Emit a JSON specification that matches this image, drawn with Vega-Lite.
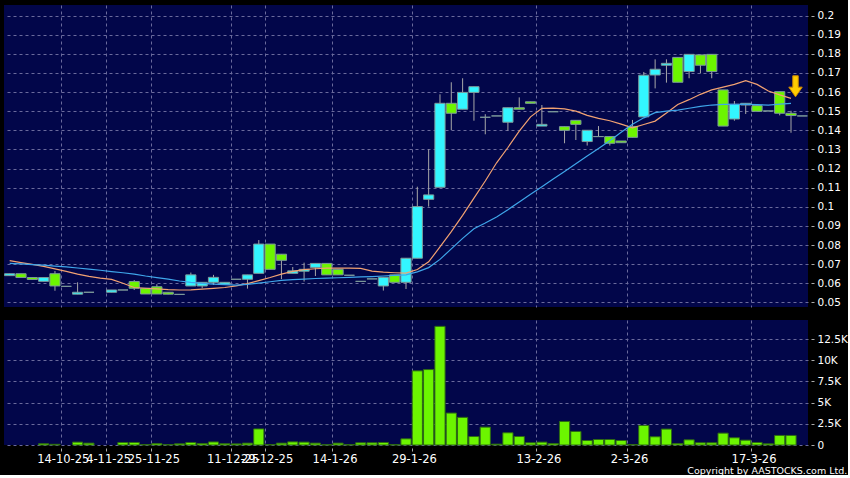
{
  "$schema": "https://vega.github.io/schema/vega-lite/v6.json",
  "background": "#000000",
  "padding": {"left": 4, "top": 5, "right": 0, "bottom": 0},
  "config": {
    "view": {"fill": "#02064a", "stroke": null},
    "font": "DejaVu Sans",
    "axis": {"labelColor": "#ffffff", "labelFont": "DejaVu Sans", "labelFontSize": 10.5, "tickColor": "#aaaaaa", "tickSize": 3, "domain": false, "gridColor": "#6a6a9c", "gridDash": [3, 3], "gridWidth": 1, "gridOpacity": 1, "title": null, "minExtent": 0, "labelOverlap": false, "labelBound": false, "labelFlush": false},
    "title": {"color": "#ffffff", "font": "DejaVu Sans", "fontSize": 9.5, "fontWeight": "normal"}
  },
  "title": {"text": "Copyright by AASTOCKS.com Ltd.", "orient": "bottom", "anchor": "end", "offset": 1},
  "spacing": 12,
  "datasets": {
    "k": [
      {"d":"29-9-25","o":0.064,"h":0.065,"l":0.064,"c":0.065,"v":null,"m1":0.0718,"m2":0.0704},
      {"d":"30-9-25","o":0.065,"h":0.065,"l":0.063,"c":0.063,"v":null,"m1":0.0708,"m2":0.0701},
      {"d":"3-10-25","o":0.063,"h":0.063,"l":0.062,"c":0.062,"v":null,"m1":0.0699,"m2":0.0698},
      {"d":"8-10-25","o":0.061,"h":0.063,"l":0.061,"c":0.063,"v":150,"m1":0.0688,"m2":0.0695},
      {"d":"10-10-25","o":0.065,"h":0.0664,"l":0.0561,"c":0.0586,"v":80,"m1":0.0675,"m2":0.069},
      {"d":"14-10-25","o":0.0584,"h":0.0584,"l":0.0584,"c":0.0584,"v":null,"m1":0.0662,"m2":0.0686},
      {"d":"20-10-25","o":0.0543,"h":0.0605,"l":0.0543,"c":0.0553,"v":340,"m1":0.0648,"m2":0.068},
      {"d":"24-10-25","o":0.0553,"h":0.0553,"l":0.0553,"c":0.0553,"v":220,"m1":0.0636,"m2":0.0674},
      {"d":"30-10-25","o":null,"h":null,"l":null,"c":null,"v":null,"m1":0.0627,"m2":0.0668},
      {"d":"4-11-25","o":0.0553,"h":0.0565,"l":0.0553,"c":0.0565,"v":null,"m1":0.062,"m2":0.0661},
      {"d":"7-11-25","o":0.0565,"h":0.0565,"l":0.0565,"c":0.0565,"v":300,"m1":0.06,"m2":0.0655},
      {"d":"13-11-25","o":0.0609,"h":0.0617,"l":0.0565,"c":0.0574,"v":300,"m1":0.0578,"m2":0.0648},
      {"d":"19-11-25","o":0.0574,"h":0.0574,"l":0.0544,"c":0.0544,"v":60,"m1":0.0574,"m2":0.0638},
      {"d":"25-11-25","o":0.0582,"h":0.0595,"l":0.0544,"c":0.0544,"v":180,"m1":0.0571,"m2":0.063},
      {"d":"26-11-25","o":0.0553,"h":0.0553,"l":0.0543,"c":0.0543,"v":60,"m1":0.0567,"m2":0.0622},
      {"d":"28-11-25","o":0.0542,"h":0.0542,"l":0.0542,"c":0.0542,"v":140,"m1":0.0565,"m2":0.0612},
      {"d":"1-12-25","o":0.0586,"h":0.0656,"l":0.0586,"c":0.0644,"v":300,"m1":0.0566,"m2":0.0605},
      {"d":"3-12-25","o":0.0586,"h":0.0605,"l":0.0574,"c":0.0605,"v":180,"m1":0.0569,"m2":0.06},
      {"d":"5-12-25","o":0.0605,"h":0.0644,"l":0.0591,"c":0.0631,"v":360,"m1":0.0573,"m2":0.0596},
      {"d":"9-12-25","o":0.0595,"h":0.0605,"l":0.0595,"c":0.0605,"v":150,"m1":0.0578,"m2":0.0593},
      {"d":"11-12-25","o":0.0621,"h":0.0621,"l":0.0621,"c":0.0621,"v":130,"m1":0.0586,"m2":0.059},
      {"d":"15-12-25","o":0.0621,"h":0.0644,"l":0.0572,"c":0.0644,"v":220,"m1":0.0598,"m2":0.0594},
      {"d":"22-12-25","o":0.0652,"h":0.0826,"l":0.0652,"c":0.0805,"v":1900,"m1":0.0614,"m2":0.0601},
      {"d":"29-12-25","o":0.0805,"h":0.0805,"l":0.0673,"c":0.0673,"v":60,"m1":0.063,"m2":0.0608},
      {"d":"30-12-25","o":0.0752,"h":0.0752,"l":0.0622,"c":0.072,"v":220,"m1":0.0648,"m2":0.0615},
      {"d":"2-1-26","o":0.0652,"h":0.0685,"l":0.0652,"c":0.0665,"v":370,"m1":0.0662,"m2":0.0619},
      {"d":"5-1-26","o":0.0663,"h":0.0708,"l":0.0609,"c":0.0673,"v":340,"m1":0.0671,"m2":0.0622},
      {"d":"8-1-26","o":0.0683,"h":0.0704,"l":0.0638,"c":0.0704,"v":220,"m1":0.0676,"m2":0.0625},
      {"d":"12-1-26","o":0.0704,"h":0.0704,"l":0.0644,"c":0.0644,"v":30,"m1":0.0679,"m2":0.0627},
      {"d":"14-1-26","o":0.0673,"h":0.0673,"l":0.0644,"c":0.0644,"v":220,"m1":0.0679,"m2":0.0629},
      {"d":"15-1-26","o":0.0642,"h":0.0642,"l":0.0642,"c":0.0642,"v":40,"m1":0.0679,"m2":0.0631},
      {"d":"19-1-26","o":0.061,"h":0.061,"l":0.061,"c":0.061,"v":260,"m1":0.0678,"m2":0.0633},
      {"d":"21-1-26","o":0.0623,"h":0.0623,"l":0.0623,"c":0.0623,"v":260,"m1":0.0664,"m2":0.0635},
      {"d":"23-1-26","o":0.0586,"h":0.0631,"l":0.0562,"c":0.0631,"v":300,"m1":0.0658,"m2":0.0638},
      {"d":"27-1-26","o":0.0644,"h":0.0644,"l":0.0605,"c":0.0605,"v":40,"m1":0.0655,"m2":0.0641},
      {"d":"28-1-26","o":0.0605,"h":0.0731,"l":0.057,"c":0.0731,"v":730,"m1":0.0653,"m2":0.0644},
      {"d":"29-1-26","o":0.0731,"h":0.1105,"l":0.0731,"c":0.1001,"v":8750,"m1":0.0672,"m2":0.066},
      {"d":"30-1-26","o":0.1039,"h":0.13,"l":0.1001,"c":0.1062,"v":8900,"m1":0.0712,"m2":0.0682},
      {"d":"2-2-26","o":0.1102,"h":0.1588,"l":0.1102,"c":0.1541,"v":14000,"m1":0.079,"m2":0.0725},
      {"d":"3-2-26","o":0.1541,"h":0.1651,"l":0.1401,"c":0.1489,"v":3770,"m1":0.087,"m2":0.078},
      {"d":"4-2-26","o":0.151,"h":0.1672,"l":0.151,"c":0.1598,"v":3260,"m1":0.0955,"m2":0.0835},
      {"d":"5-2-26","o":0.1598,"h":0.1628,"l":0.145,"c":0.1628,"v":1000,"m1":0.1045,"m2":0.0885},
      {"d":"6-2-26","o":0.1468,"h":0.1484,"l":0.1379,"c":0.1468,"v":2110,"m1":0.1135,"m2":0.0915},
      {"d":"9-2-26","o":0.1475,"h":0.1475,"l":0.1475,"c":0.1475,"v":100,"m1":0.123,"m2":0.0947},
      {"d":"10-2-26","o":0.1442,"h":0.1518,"l":0.1398,"c":0.1518,"v":1440,"m1":0.131,"m2":0.0985},
      {"d":"11-2-26","o":0.1518,"h":0.1572,"l":0.151,"c":0.151,"v":1000,"m1":0.1395,"m2":0.1025},
      {"d":"12-2-26","o":0.1549,"h":0.1549,"l":0.1541,"c":0.1541,"v":260,"m1":0.147,"m2":0.1065},
      {"d":"13-2-26","o":0.1422,"h":0.1532,"l":0.1422,"c":0.1431,"v":340,"m1":0.1515,"m2":0.1105},
      {"d":"16-2-26","o":0.1497,"h":0.1497,"l":0.1497,"c":0.1497,"v":180,"m1":0.1516,"m2":0.1145},
      {"d":"20-2-26","o":0.1419,"h":0.1419,"l":0.1332,"c":0.14,"v":2780,"m1":0.1512,"m2":0.1185},
      {"d":"23-2-26","o":0.1452,"h":0.1452,"l":0.1349,"c":0.1431,"v":1600,"m1":0.15,"m2":0.1225},
      {"d":"24-2-26","o":0.1341,"h":0.14,"l":0.132,"c":0.14,"v":530,"m1":0.1478,"m2":0.1265},
      {"d":"25-2-26","o":0.1367,"h":0.1422,"l":0.1367,"c":0.1367,"v":650,"m1":0.1462,"m2":0.1305},
      {"d":"26-2-26","o":0.1367,"h":0.1367,"l":0.132,"c":0.1332,"v":650,"m1":0.145,"m2":0.1345},
      {"d":"27-2-26","o":0.1344,"h":0.1344,"l":0.1335,"c":0.1335,"v":530,"m1":0.1432,"m2":0.139},
      {"d":"2-3-26","o":0.142,"h":0.1454,"l":0.1363,"c":0.1363,"v":50,"m1":0.1413,"m2":0.1432},
      {"d":"3-3-26","o":0.147,"h":0.1705,"l":0.147,"c":0.1688,"v":2310,"m1":0.143,"m2":0.1465},
      {"d":"4-3-26","o":0.1689,"h":0.1771,"l":0.1619,"c":0.1719,"v":970,"m1":0.1448,"m2":0.1492},
      {"d":"5-3-26","o":0.174,"h":0.1771,"l":0.1649,"c":0.175,"v":1880,"m1":0.149,"m2":0.15},
      {"d":"6-3-26","o":0.1781,"h":0.1781,"l":0.1651,"c":0.1651,"v":180,"m1":0.1535,"m2":0.1505},
      {"d":"9-3-26","o":0.1707,"h":0.1797,"l":0.1672,"c":0.1797,"v":610,"m1":0.156,"m2":0.1515},
      {"d":"10-3-26","o":0.1794,"h":0.1794,"l":0.1698,"c":0.174,"v":260,"m1":0.1588,"m2":0.1525},
      {"d":"11-3-26","o":0.1797,"h":0.1797,"l":0.1672,"c":0.1707,"v":260,"m1":0.1611,"m2":0.1532},
      {"d":"12-3-26","o":0.1611,"h":0.1611,"l":0.1422,"c":0.1422,"v":1400,"m1":0.1626,"m2":0.1535},
      {"d":"13-3-26","o":0.1459,"h":0.1553,"l":0.145,"c":0.1536,"v":850,"m1":0.164,"m2":0.1535},
      {"d":"16-3-26","o":0.1532,"h":0.1541,"l":0.1485,"c":0.1541,"v":570,"m1":0.1659,"m2":0.1536},
      {"d":"17-3-26","o":0.1529,"h":0.1529,"l":0.1499,"c":0.1499,"v":300,"m1":0.164,"m2":0.1534},
      {"d":"18-3-26","o":0.1501,"h":0.1501,"l":0.1501,"c":0.1501,"v":140,"m1":0.1605,"m2":0.1532},
      {"d":"19-3-26","o":0.1602,"h":0.1602,"l":0.1478,"c":0.1489,"v":1130,"m1":0.1585,"m2":0.1537},
      {"d":"20-3-26","o":0.1489,"h":0.1502,"l":0.1387,"c":0.1477,"v":1130,"m1":0.1567,"m2":0.1541,"a":0.163},
      {"d":"23-3-26","o":0.1475,"h":0.1475,"l":0.1475,"c":0.1475,"v":null,"m1":null,"m2":null}
    ]
  },
  "vconcat": [
    {
      "width": 804,
      "height": 302,
      "data": {"name": "k"},
      "encoding": {
        "x": {"field": "d", "type": "ordinal", "sort": null,
          "scale": {"paddingInner": 0.1, "paddingOuter": 0.05,
            "domain": ["29-9-25","30-9-25","3-10-25","8-10-25","10-10-25","14-10-25","20-10-25","24-10-25","30-10-25","4-11-25","7-11-25","13-11-25","19-11-25","25-11-25","26-11-25","28-11-25","1-12-25","3-12-25","5-12-25","9-12-25","11-12-25","15-12-25","22-12-25","29-12-25","30-12-25","2-1-26","5-1-26","8-1-26","12-1-26","14-1-26","15-1-26","19-1-26","21-1-26","23-1-26","27-1-26","28-1-26","29-1-26","30-1-26","2-2-26","3-2-26","4-2-26","5-2-26","6-2-26","9-2-26","10-2-26","11-2-26","12-2-26","13-2-26","16-2-26","20-2-26","23-2-26","24-2-26","25-2-26","26-2-26","27-2-26","2-3-26","3-3-26","4-3-26","5-3-26","6-3-26","9-3-26","10-3-26","11-3-26","12-3-26","13-3-26","16-3-26","17-3-26","18-3-26","19-3-26","20-3-26","23-3-26"]},
          "axis": {"labels": false, "ticks": false, "grid": true, "bandPosition": 0,
            "values": ["14-10-25","4-11-25","25-11-25","11-12-25","29-12-25","14-1-26","29-1-26","13-2-26","2-3-26","17-3-26"]}}
      },
      "layer": [
        {
          "mark": {"type": "rule", "color": "#a8a8a8", "strokeWidth": 1},
          "encoding": {
            "y": {"field": "l", "type": "quantitative",
              "scale": {"domain": [0.0476, 0.2055], "nice": false, "zero": false},
              "axis": {"orient": "right", "grid": true, "offset": 3, "labelPadding": 3, "labelOverlap": false,
                "values": [0.05,0.06,0.07,0.08,0.09,0.1,0.11,0.12,0.13,0.14,0.15,0.16,0.17,0.18,0.19,0.2],
                "format": ".2~f"}},
            "y2": {"field": "h"}
          }
        },
        {
          "mark": {"type": "bar", "stroke": "#7d9a9a", "strokeWidth": 1},
          "encoding": {
            "y": {"field": "o", "type": "quantitative", "scale": {"domain": [0.0476, 0.2055], "nice": false, "zero": false},
              "axis": {"orient": "right", "grid": true, "offset": 3, "labelPadding": 3, "labelOverlap": false,
                "values": [0.05,0.06,0.07,0.08,0.09,0.1,0.11,0.12,0.13,0.14,0.15,0.16,0.17,0.18,0.19,0.2],
                "format": ".2~f"}},
            "y2": {"field": "c"},
            "color": {"condition": [
              {"test": "datum.c > datum.o", "value": "#33f6ff"},
              {"test": "datum.c < datum.o", "value": "#6cf500"}
            ], "value": "#b8b8b8"}
          }
        },
        {
          "mark": {"type": "line", "color": "#f2a272", "strokeWidth": 1.2},
          "encoding": {"y": {"field": "m1", "type": "quantitative", "scale": {"domain": [0.0476, 0.2055], "nice": false, "zero": false},
            "axis": {"orient": "right", "grid": true, "offset": 3, "labelPadding": 3, "labelOverlap": false,
              "values": [0.05,0.06,0.07,0.08,0.09,0.1,0.11,0.12,0.13,0.14,0.15,0.16,0.17,0.18,0.19,0.2],
              "format": ".2~f"}}}
        },
        {
          "mark": {"type": "line", "color": "#3fa6ea", "strokeWidth": 1.2},
          "encoding": {"y": {"field": "m2", "type": "quantitative", "scale": {"domain": [0.0476, 0.2055], "nice": false, "zero": false},
            "axis": {"orient": "right", "grid": true, "offset": 3, "labelPadding": 3, "labelOverlap": false,
              "values": [0.05,0.06,0.07,0.08,0.09,0.1,0.11,0.12,0.13,0.14,0.15,0.16,0.17,0.18,0.19,0.2],
              "format": ".2~f"}}}
        },
        {
          "mark": {"type": "point", "filled": true, "fill": "#ffcc00", "stroke": "#d08a00", "strokeWidth": 1, "opacity": 1, "size": 441, "xOffset": 4.5,
            "shape": "M-0.26,-1 L0.26,-1 L0.26,0.08 L0.64,0.08 L0,1 L-0.64,0.08 L-0.26,0.08 Z"},
          "encoding": {"y": {"field": "a", "type": "quantitative", "scale": {"domain": [0.0476, 0.2055], "nice": false, "zero": false},
            "axis": {"orient": "right", "grid": true, "offset": 3, "labelPadding": 3, "labelOverlap": false,
              "values": [0.05,0.06,0.07,0.08,0.09,0.1,0.11,0.12,0.13,0.14,0.15,0.16,0.17,0.18,0.19,0.2],
              "format": ".2~f"}}}
        }
      ]
    },
    {
      "width": 804,
      "height": 125,
      "data": {"name": "k"},
      "mark": {"type": "bar", "color": "#6cf500", "stroke": "#2e6a14", "strokeWidth": 1},
      "encoding": {
        "x": {"field": "d", "type": "ordinal", "sort": null,
          "scale": {"paddingInner": 0.1, "paddingOuter": 0.05,
            "domain": ["29-9-25","30-9-25","3-10-25","8-10-25","10-10-25","14-10-25","20-10-25","24-10-25","30-10-25","4-11-25","7-11-25","13-11-25","19-11-25","25-11-25","26-11-25","28-11-25","1-12-25","3-12-25","5-12-25","9-12-25","11-12-25","15-12-25","22-12-25","29-12-25","30-12-25","2-1-26","5-1-26","8-1-26","12-1-26","14-1-26","15-1-26","19-1-26","21-1-26","23-1-26","27-1-26","28-1-26","29-1-26","30-1-26","2-2-26","3-2-26","4-2-26","5-2-26","6-2-26","9-2-26","10-2-26","11-2-26","12-2-26","13-2-26","16-2-26","20-2-26","23-2-26","24-2-26","25-2-26","26-2-26","27-2-26","2-3-26","3-3-26","4-3-26","5-3-26","6-3-26","9-3-26","10-3-26","11-3-26","12-3-26","13-3-26","16-3-26","17-3-26","18-3-26","19-3-26","20-3-26","23-3-26"]},
          "axis": {"grid": true, "bandPosition": 0, "labelAngle": 0, "labelFontSize": 11.5, "offset": 3, "labelPadding": 2, "labelOffset": -3,
            "values": ["14-10-25","4-11-25","25-11-25","11-12-25","29-12-25","14-1-26","29-1-26","13-2-26","2-3-26","17-3-26"]}},
        "y": {"field": "v", "type": "quantitative",
          "scale": {"domain": [0, 14750], "nice": false},
          "axis": {"orient": "right", "grid": true, "offset": 3, "labelPadding": 3,
            "values": [0, 2500, 5000, 7500, 10000, 12500],
            "labelExpr": "datum.value == 0 ? '0' : (datum.value / 1000) + 'K'"}}
      }
    }
  ]
}
